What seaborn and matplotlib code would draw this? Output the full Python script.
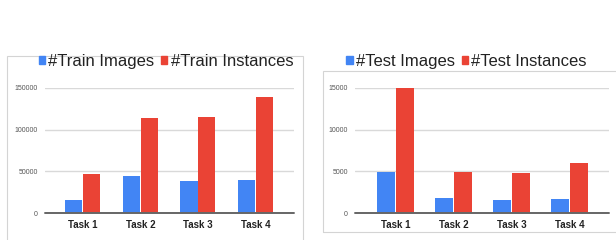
import matplotlib
matplotlib.use("Agg")
import matplotlib.pyplot as plt
from matplotlib.patches import Rectangle
import seaborn as sns
import pandas as pd

tasks = ["Task 1", "Task 2", "Task 3", "Task 4"]
train_images = [16000, 45000, 39000, 40000]
train_instances = [47500, 113500, 114500, 138500]
test_images = [4950, 1850, 1600, 1700]
test_instances = [15000, 4900, 4800, 6000]
train_labels = ["#Train Images", "#Train Instances"]
test_labels = ["#Test Images", "#Test Instances"]
train_yticks = [0, 50000, 100000, 150000]
test_yticks = [0, 5000, 10000, 15000]

BLUE = "#4285F4"
RED = "#EA4335"

sns.set_theme(style="white")
plt.rcParams["font.family"] = ["Liberation Sans", "DejaVu Sans"]

W, H = 616, 240
fig = plt.figure(figsize=(W / 100, H / 100), dpi=100)


def px_axes(left, right, top, bottom):
    return fig.add_axes([left / W, 1 - bottom / H, (right - left) / W, (bottom - top) / H])


def frame(x0, y0, x1, y1):
    fig.patches.append(Rectangle((x0 / W, 1 - y1 / H), (x1 - x0) / W, (y1 - y0) / H,
                                 transform=fig.transFigure, fill=False,
                                 edgecolor="#d4d4d4", linewidth=0.8, zorder=0))


def panel(ax, a, b, labels, yticks, xlim, width, legend_center):
    df = pd.DataFrame({
        "task": tasks * 2,
        "series": [labels[0]] * len(tasks) + [labels[1]] * len(tasks),
        "value": list(a) + list(b),
    })
    sns.barplot(data=df, x="task", y="value", hue="series", palette=[BLUE, RED],
                width=width, gap=0.04, ax=ax, legend=False, saturation=1,
                linewidth=0, edgecolor="none")
    ax.set_xlim(*xlim)
    ax.set_ylim(0, yticks[-1])
    ax.set_yticks(yticks)
    ax.set_yticklabels([str(t) for t in yticks], fontsize=5, color="#555555")
    ax.tick_params(axis="y", length=0, pad=5)
    ax.tick_params(axis="x", length=0, pad=5)
    for t in ax.get_xticklabels():
        t.set_fontsize(7)
        t.set_fontweight("bold")
        t.set_color("#222222")
    ax.set_xlabel("")
    ax.set_ylabel("")
    for s in ax.spines.values():
        s.set_visible(False)
    ax.set_axisbelow(True)
    ax.yaxis.grid(True, color="#d9d9d9", linewidth=1.0)
    ax.axhline(0, color="#666666", linewidth=1.4, zorder=3, clip_on=False)
    ax.patch.set_alpha(0)
    handles = [Rectangle((0, 0), 1, 1, color=BLUE), Rectangle((0, 0), 1, 1, color=RED)]
    fig.legend(handles, labels, loc="center",
               bbox_to_anchor=(legend_center[0] / W, 1 - legend_center[1] / H),
               ncol=2, frameon=False, fontsize=12, handlelength=0.38, handleheight=0.38,
               handletextpad=0.2, columnspacing=0.4, borderpad=0, labelcolor="#222222")


frame(7.3, 55.7, 303.3, 241)
frame(323.3, 70.7, 620, 231.5)

ax1 = px_axes(45, 294, 87.7, 213.3)
panel(ax1, train_images, train_instances, train_labels, train_yticks,
      (-0.656, 3.667), 0.62, (166, 61.7))

ax2 = px_axes(355, 609, 87.7, 213.3)
panel(ax2, test_images, test_instances, test_labels, test_yticks,
      (-0.694, 3.68), 0.643, (466.5, 61.7))

fig.savefig("out.png", dpi=100)
